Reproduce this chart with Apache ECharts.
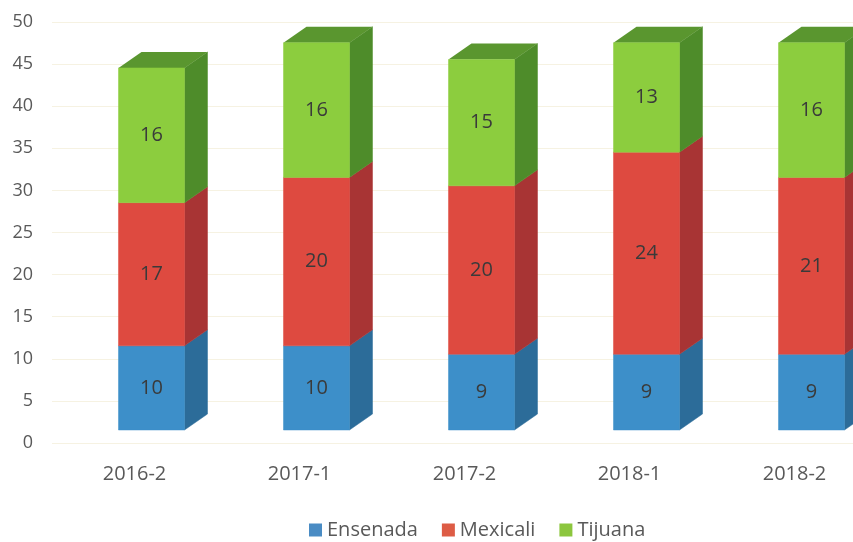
<!DOCTYPE html>
<html><head><meta charset="utf-8">
<script src="https://cdn.jsdelivr.net/npm/echarts@6/dist/echarts.min.js"></script>
<style>html,body{margin:0;padding:0;background:#fff}#c{width:853px;height:542px}</style>
</head><body><div id="c"></div>
<script>
var categories = ['2016-2', '2017-1', '2017-2', '2018-1', '2018-2'];
var ensenada = [10, 10, 9, 9, 9];
var mexicali = [17, 20, 20, 24, 21];
var tijuana = [16, 16, 15, 13, 16];
var yTicks = [0, 5, 10, 15, 20, 25, 30, 35, 40, 45, 50];

var seriesDefs = [
  {name: 'Ensenada', values: ensenada, front: '#3d8fc9', side: '#2c6c99', top: '#357fb3', legend: '#4a8cc4'},
  {name: 'Mexicali', values: mexicali, front: '#de4a40', side: '#a83434', top: '#c43d37', legend: '#dd5c45'},
  {name: 'Tijuana', values: tijuana, front: '#8ccd3e', side: '#4e8c2a', top: '#5a962f', legend: '#8cc63e'}
];

var FONT = '"Open Sans", sans-serif';
var cum = categories.map(function () { return 0; });
var series = seriesDefs.map(function (def, si) {
  var isTop = si === seriesDefs.length - 1;
  var data = def.values.map(function (v, i) {
    var base = cum[i];
    cum[i] += v;
    return [i, base, base + v, v];
  });
  return {
    name: def.name,
    type: 'custom',
    itemStyle: {color: def.legend},
    encode: {x: 0, y: [1, 2]},
    data: data,
    renderItem: function (params, api) {
      var idx = api.value(0);
      var p0 = api.coord([idx, api.value(1)]);
      var p1 = api.coord([idx, api.value(2)]);
      var band = api.size([1, 0])[0];
      var cx = p0[0];
      var x0 = cx - band * 0.097, x1 = cx + band * 0.303;
      var lift = 13;
      var yb = p0[1] - lift, yt = p1[1] - lift;
      var dx = 23, dy = -16;
      var children = [
        {type: 'polygon', shape: {points: [[x1, yb], [x1 + dx, yb + dy], [x1 + dx, yt + dy], [x1, yt]]}, style: {fill: def.side, stroke: def.side, lineWidth: 0.5}}
      ];
      if (isTop) {
        children.push({type: 'polygon', shape: {points: [[x0, yt], [x0 + dx, yt + dy], [x1 + dx, yt + dy], [x1, yt]]}, style: {fill: def.top}});
      }
      children.push({type: 'rect', shape: {x: x0, y: yt, width: x1 - x0, height: yb - yt}, style: {fill: def.front, stroke: def.front, lineWidth: 0.5}});
      children.push({type: 'text', style: {text: String(api.value(3)), x: (x0 + x1) / 2, y: (yt + yb) / 2, textAlign: 'center', textVerticalAlign: 'middle', fill: '#3a3a3a', font: '20px ' + FONT}});
      return {type: 'group', children: children};
    }
  };
});

var chart = echarts.init(document.getElementById('c'), null, {renderer: 'canvas'});
chart.setOption({
  backgroundColor: '#ffffff',
  animation: false,
  textStyle: {fontFamily: FONT},
  grid: {left: 52, width: 825, top: 22, bottom: 99, outerBoundsMode: 'none', containLabel: false},
  legend: {
    left: 304, top: 515, icon: 'rect', itemWidth: 13, itemHeight: 13, itemGap: 24,
    textStyle: {fontSize: 20, color: '#595959', fontFamily: FONT},
    data: seriesDefs.map(function (d) { return d.name; })
  },
  xAxis: {
    type: 'category', data: categories, boundaryGap: true,
    axisLine: {show: false}, axisTick: {show: false},
    axisLabel: {fontSize: 20, color: '#595959', margin: 21, fontFamily: FONT}
  },
  yAxis: {
    type: 'value', min: yTicks[0], max: yTicks[yTicks.length - 1], interval: 5,
    axisLine: {show: false}, axisTick: {show: false},
    axisLabel: {fontSize: 18, color: '#595959', margin: 19, fontFamily: FONT},
    splitLine: {lineStyle: {color: '#f6f2e2', width: 1}}
  },
  series: series
});
</script></body></html>
